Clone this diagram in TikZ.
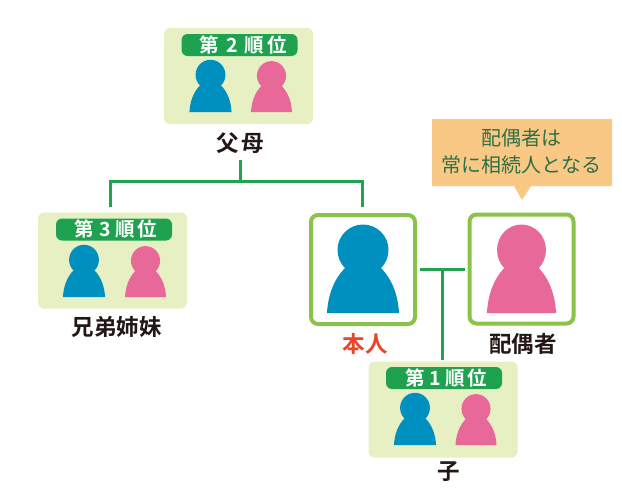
\documentclass[tikz,border=0pt]{standalone}
\usepackage{fontspec}
\setmainfont{Noto Sans CJK JP}[BoldFont={Noto Sans CJK JP Bold}]
\definecolor{paneBg}{HTML}{E6F0C3}
\definecolor{pillGreen}{HTML}{1FA24F}
\definecolor{lineGreen}{HTML}{22A350}
\definecolor{frameGreen}{HTML}{8AC24A}
\definecolor{manBlue}{HTML}{0090C0}
\definecolor{womanPink}{HTML}{E8689A}
\definecolor{noteBg}{HTML}{F9C884}
\definecolor{noteText}{HTML}{2F7048}
\definecolor{selfRed}{HTML}{E8452A}
\definecolor{labelBlack}{HTML}{231815}
\newcommand{\sz}[1]{\fontsize{#1}{#1}\selectfont}
\tikzset{
  x=1pt,y=-1pt,
  pane/.style={fill=paneBg,rounded corners=6pt,minimum width=149pt,minimum height=96pt,inner sep=0pt},
  pill/.style={fill=pillGreen,text=white,rounded corners=6pt,minimum width=116pt,minimum height=22pt,inner sep=0pt,font=\sz{19.5}\bfseries},
  framebox/.style={draw=frameGreen,line width=4pt,fill=white,rounded corners=7pt,minimum width=104pt,minimum height=109pt,inner sep=0pt},
  family/.style={text=labelBlack,font=\sz{22.5}\bfseries,inner sep=0pt},
  conn/.style={draw=lineGreen,line width=3pt},
  person/.pic={
    \fill (-36,0) .. controls (-35,-18) and (-29,-34) .. (-18,-45) -- (18,-45) .. controls (29,-34) and (35,-18) .. (36,0) -- cycle;
    \fill (0,-63) circle[radius=25.5];
  }
}
\begin{document}
\begin{tikzpicture}
\useasboundingbox (0,0) rectangle (622,498);
% panes
\node[pane] (p2) at (238.5,76) {};
\node[pill] (p2t) at (239.5,45) {\hspace{8pt}第\hspace{7pt}2\hspace{7pt}順\hspace{3pt}位};
\node[pane] (p3) at (112.5,260.5) {};
\node[pill] (p3t) at (114,229.5) {\hspace{4pt}第\hspace{5pt}3\hspace{5pt}順\hspace{2pt}位};
\node[pane] (p1) at (443,409.5) {};
\node[pill] (p1t) at (444,378) {\hspace{4pt}第\hspace{5pt}1\hspace{5pt}順\hspace{2pt}位};
% framed
\node[framebox] (self) at (363,269.5) {};
\node[framebox] (spouse) at (521.5,269) {};
% persons
\pic[fill=manBlue,xscale=.585,yscale=.59] at (210.5,112) {person};
\pic[fill=womanPink,xscale=.57,yscale=.575] at (271.5,112) {person};
\pic[fill=manBlue,xscale=.585,yscale=.59] at (84,297) {person};
\pic[fill=womanPink,xscale=.57,yscale=.575] at (145.5,297) {person};
\pic[fill=manBlue,xscale=.585,yscale=.59] at (415,445) {person};
\pic[fill=womanPink,xscale=.57,yscale=.575] at (476,445) {person};
\pic[fill=manBlue] at (363,313) {person};
\pic[fill=womanPink,xscale=.96,yscale=1] at (521.5,313) {person};
% labels
\node[family] (parents) at (240,143) {父\hspace{3pt}母};
\node[family] (siblings) at (116.5,327) {兄弟姉妹};
\node[family,text=selfRed] (selflabel) at (365,344) {本人};
\node[family] (spouselabel) at (523,344) {配偶者};
\node[family] (child) at (449,472) {子};
% note
\fill[noteBg] (432,119) -- (612,119) -- (612,186) -- (531,186) -- (522,200) -- (514,186) -- (432,186) -- cycle;
\node[text=noteText,font=\sz{20},align=center,inner sep=0pt] (note) at (521.5,151.5) {配偶者は\\[7pt]常に相続人となる};
% connectors
\coordinate (stem) at (240,160);
\coordinate (bar) at (240,181);
\coordinate (toSib) at (110,207);
\coordinate (toSelf) at (362,207);
\coordinate (mL) at (420,269);
\coordinate (mR) at (465,269);
\coordinate (mM) at (442,269);
\coordinate (toChild) at (442,360);
\draw[conn] (stem) -- (bar);
\draw[conn,line join=miter] (toSib) |- (bar) -| (toSelf);
\draw[conn] (mL) -- (mR);
\draw[conn] (mM) -- (toChild);
\end{tikzpicture}
\end{document}
